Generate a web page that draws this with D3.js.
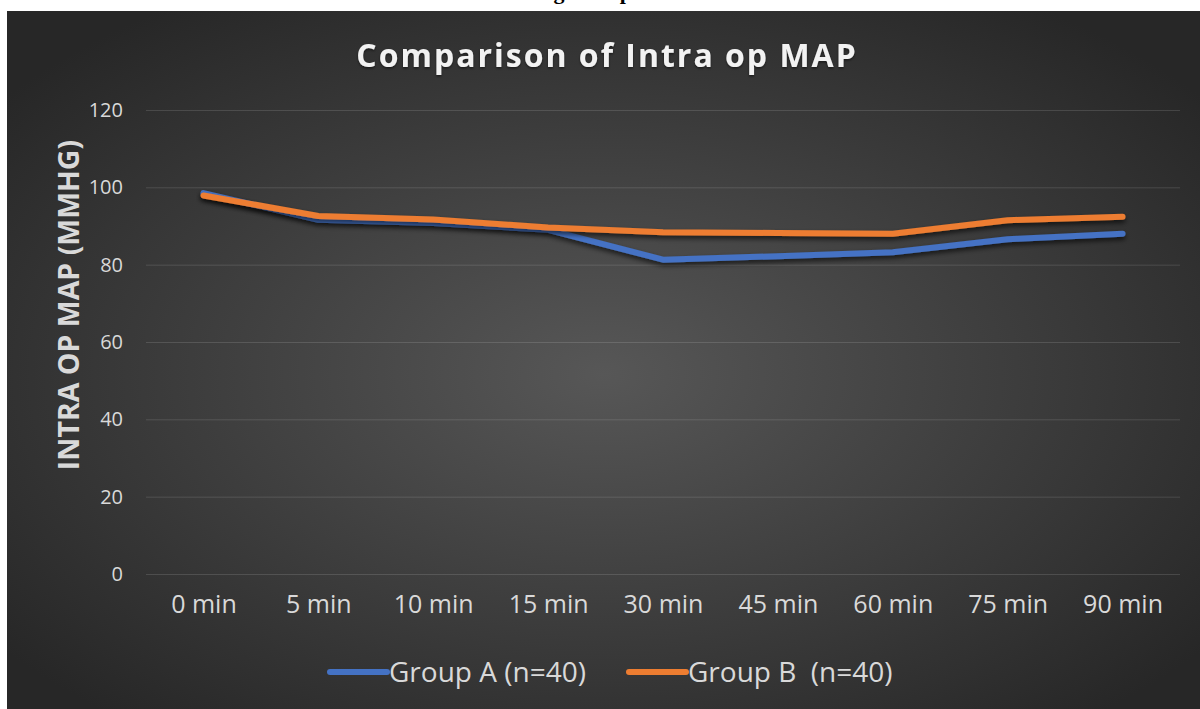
<!DOCTYPE html>
<html>
<head>
<meta charset="utf-8">
<script src="https://cdn.jsdelivr.net/npm/d3@7/dist/d3.min.js"></script>
<style>
  html, body { margin: 0; padding: 0; background: #ffffff; }
  svg { display: block; }
</style>
</head>
<body>
<svg id="chart" width="1200" height="709"></svg>
<script>
// Time points and mean arterial pressure (mmHg) for each group
const timePoints = ["0 min", "5 min", "10 min", "15 min", "30 min", "45 min", "60 min", "75 min", "90 min"];
const groupA = [98.5, 91.6, 90.8, 89.0, 81.3, 82.2, 83.2, 86.6, 88.0];
const groupB = [97.9, 92.6, 91.7, 89.6, 88.4, 88.2, 88.0, 91.5, 92.4];
const seriesNames = ["Group A (n=40)", "Group B  (n=40)"];
const yTicks = [0, 20, 40, 60, 80, 100, 120];

const series = [
  { name: seriesNames[0], values: groupA, color: "#4472C4" },
  { name: seriesNames[1], values: groupB, color: "#ED7D31" }
];

const svg = d3.select("#chart");
const font = "'Open Sans', 'Noto Sans', sans-serif";

const defs = svg.append("defs");
const grad = defs.append("radialGradient")
  .attr("id", "bg").attr("cx", "50%").attr("cy", "52%").attr("r", "64%");
grad.append("stop").attr("offset", "0%").attr("stop-color", "#575757");
grad.append("stop").attr("offset", "100%").attr("stop-color", "#272727");

const shadow = defs.append("filter").attr("id", "shadow")
  .attr("x", "-10%").attr("y", "-30%").attr("width", "120%").attr("height", "160%");
shadow.append("feDropShadow").attr("dx", 0).attr("dy", 3).attr("stdDeviation", 2.5)
  .attr("flood-color", "#000").attr("flood-opacity", 0.65);

const titleShadow = defs.append("filter").attr("id", "tshadow");
titleShadow.append("feDropShadow").attr("dx", 0).attr("dy", 1.5).attr("stdDeviation", 1.2)
  .attr("flood-color", "#000").attr("flood-opacity", 0.5);

// heading of the page above the chart; only its descenders fall inside the page
svg.append("text")
  .attr("x", 457).attr("y", -1)
  .attr("font-family", "'Liberation Serif', 'Times New Roman', serif")
  .attr("font-weight", "bold").attr("font-size", 22).attr("fill", "#000")
  .text("Monitoring Groups");

// chart area
svg.append("rect")
  .attr("x", 7).attr("y", 11).attr("width", 1193).attr("height", 698)
  .attr("fill", "url(#bg)");

const plotLeft = 146, plotRight = 1180, plotTop = 110, plotBottom = 574;

const x = d3.scalePoint().domain(timePoints).range([plotLeft, plotRight]).padding(0.5);
const y = d3.scaleLinear().domain([0, 120]).range([plotBottom, plotTop]);

// y axis with gridlines
const yAxis = svg.append("g")
  .attr("transform", `translate(${plotLeft},0)`)
  .call(d3.axisLeft(y).tickValues(yTicks).tickSize(-(plotRight - plotLeft)).tickPadding(23));
yAxis.select(".domain").remove();
yAxis.selectAll(".tick line").attr("stroke", "#ffffff").attr("stroke-opacity", 0.13);
yAxis.selectAll(".tick text")
  .attr("fill", "#d9d9d9").attr("font-family", font).attr("font-size", 20);

// x axis labels
const xAxis = svg.append("g")
  .attr("transform", `translate(0,${plotBottom})`)
  .call(d3.axisBottom(x).tickSize(0).tickPadding(21));
xAxis.select(".domain").remove();
xAxis.selectAll(".tick text")
  .attr("fill", "#d9d9d9").attr("font-family", font).attr("font-size", 25);

// lines
const line = d3.line()
  .x((d, i) => x(timePoints[i]))
  .y(d => y(d));

svg.append("g").selectAll("path")
  .data(series)
  .join("path")
  .attr("d", d => line(d.values))
  .attr("fill", "none")
  .attr("stroke", d => d.color)
  .attr("stroke-width", 6)
  .attr("stroke-linecap", "round")
  .attr("stroke-linejoin", "round")
  .attr("filter", "url(#shadow)");

// title
svg.append("text")
  .attr("x", 607).attr("y", 67)
  .attr("text-anchor", "middle")
  .attr("font-family", font).attr("font-weight", "bold")
  .attr("font-size", 32).attr("letter-spacing", 2)
  .attr("fill", "#f2f2f2")
  .attr("filter", "url(#tshadow)")
  .text("Comparison of Intra op MAP");

// y axis title
svg.append("text")
  .attr("transform", "translate(79,305) rotate(-90)")
  .attr("text-anchor", "middle")
  .attr("font-family", font).attr("font-weight", "bold")
  .attr("font-size", 28.5)
  .attr("fill", "#d9d9d9")
  .text("INTRA OP MAP (MMHG)");

// legend
const legendX = [330, 629];
const legend = svg.append("g").selectAll("g")
  .data(series)
  .join("g")
  .attr("transform", (d, i) => `translate(${legendX[i]},672)`);
legend.append("line")
  .attr("x1", 0).attr("x2", 57).attr("y1", 0).attr("y2", 0)
  .attr("stroke", d => d.color).attr("stroke-width", 6).attr("stroke-linecap", "round");
legend.append("text")
  .attr("x", 59).attr("dy", "0.35em")
  .attr("font-family", font).attr("font-size", 28)
  .attr("fill", "#d9d9d9")
  .attr("xml:space", "preserve")
  .style("white-space", "pre")
  .text(d => d.name);
</script>
</body>
</html>
